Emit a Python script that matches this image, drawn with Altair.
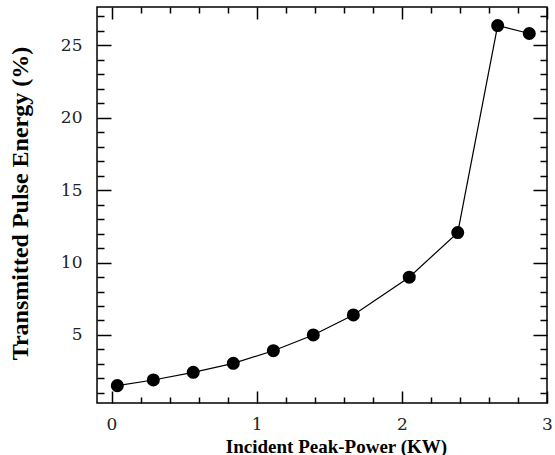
import altair as alt
import pandas as pd

# Data
power_kw = [0.040, 0.288, 0.563, 0.839, 1.115, 1.390, 1.666, 2.051, 2.385, 2.660, 2.878]
energy_pct = [1.50, 1.89, 2.42, 3.04, 3.91, 5.00, 6.38, 8.99, 12.07, 26.37, 25.82]

# Tick values
x_major = [0, 1, 2, 3]
x_minor = [0.2, 0.4, 0.6, 0.8, 1.2, 1.4, 1.6, 1.8, 2.2, 2.4, 2.6, 2.8]
y_major = [5, 10, 15, 20, 25]
y_minor = [1, 2, 3, 4, 6, 7, 8, 9, 11, 12, 13, 14, 16, 17, 18, 19, 21, 22, 23, 24, 26, 27]

df = pd.DataFrame({"power": power_kw, "energy": energy_pct})

xs = alt.Scale(domain=[-0.1, 3.0], nice=False, zero=False)
ys = alt.Scale(domain=[0.3, 27.65], nice=False, zero=False)


def tick_axis(orient, values, size):
    return alt.Axis(orient=orient, values=values, labels=False, domain=False,
                    grid=False, tickSize=size, offset=-size, tickWidth=1.5,
                    tickColor="black", title=None)


label_x = alt.Axis(orient="bottom", values=x_major, ticks=False, domain=False,
                   grid=False, labelPadding=13, labelFlush=False, format="d",
                   title="Incident Peak-Power (KW)")
label_y = alt.Axis(orient="left", values=y_major, ticks=False, domain=False,
                   grid=False, labelPadding=15, format="d",
                   title="Transmitted Pulse Energy (%)")

base = alt.Chart(df)

line = base.mark_line(color="black", strokeWidth=1.2).encode(
    x=alt.X("power:Q", scale=xs, axis=label_x),
    y=alt.Y("energy:Q", scale=ys, axis=label_y),
)
points = base.mark_point(filled=True, color="black", size=170, opacity=1).encode(
    x=alt.X("power:Q", scale=xs, axis=tick_axis("bottom", x_major, 12)),
    y=alt.Y("energy:Q", scale=ys, axis=tick_axis("left", y_major, 14)),
)
minor_bl = base.mark_point(opacity=0).encode(
    x=alt.X("power:Q", scale=xs, axis=tick_axis("bottom", x_minor, 6)),
    y=alt.Y("energy:Q", scale=ys, axis=tick_axis("left", y_minor, 7)),
)
major_tr = base.mark_point(opacity=0).encode(
    x=alt.X("power:Q", scale=xs, axis=tick_axis("top", x_major, 12)),
    y=alt.Y("energy:Q", scale=ys, axis=tick_axis("right", y_major, 14)),
)
minor_tr = base.mark_point(opacity=0).encode(
    x=alt.X("power:Q", scale=xs, axis=tick_axis("top", x_minor, 6)),
    y=alt.Y("energy:Q", scale=ys, axis=tick_axis("right", y_minor, 7)),
)

chart = (
    alt.layer(line, points, minor_bl, major_tr, minor_tr)
    .resolve_axis(x="independent", y="independent")
    .properties(width=450, height=396, autosize=alt.AutoSizeParams(type="none"),
                padding={"left": 97, "top": 7, "right": 8, "bottom": 52})
    .configure_view(stroke="black", strokeWidth=1.5)
    .configure_axis(labelFont="DejaVu Serif", labelFontSize=17,
                    labelColor="#222222", titleFont="Liberation Serif",
                    titleFontWeight="bold", titleColor="black")
    .configure_axisBottom(titleFontSize=19, titleX=239, titleY=49,
                          titleBaseline="alphabetic")
    .configure_axisLeft(titleFontSize=24, titleX=-70, titleY=196,
                        titleAngle=-90, titleBaseline="alphabetic")
)

chart.save("out.html", embed_options={"renderer": "svg", "actions": False})
